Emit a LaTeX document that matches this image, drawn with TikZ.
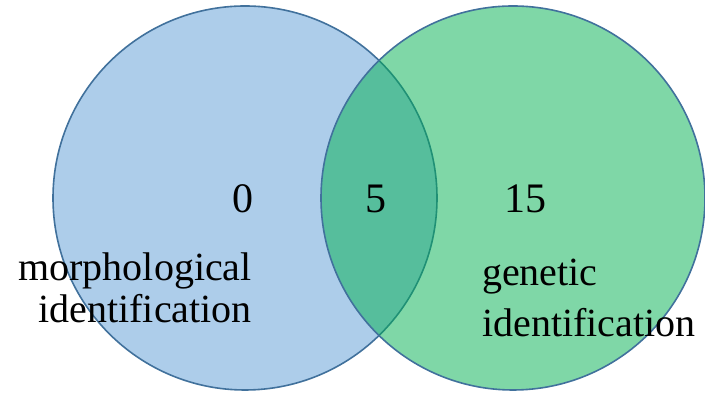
\documentclass[tikz,border=0pt]{standalone}
\usepackage{fontspec}
\setmainfont{Liberation Serif}
\usepackage{xcolor}
\definecolor{setblue}{HTML}{5B9BD5}
\definecolor{setgreen}{HTML}{00B050}
\definecolor{rimblue}{HTML}{41719C}

\begin{document}
\begin{tikzpicture}[
  x=1pt, y=1pt,
  setcircle/.style = {circle, draw=rimblue, line width=1.6pt, inner sep=0pt,
                      minimum size=384pt, fill opacity=0.5},
  morphset/.style  = {setcircle, fill=setblue},
  geneset/.style   = {setcircle, fill=setgreen},
  count/.style     = {anchor=base, font=\fontsize{42}{48}\selectfont},
  setlabel/.style  = {font=\fontsize{40}{42}\selectfont, inner sep=0pt},
]
\useasboundingbox (0,0) rectangle (705,395);

% the two sets
\node[morphset] (morph) at (245,197) {};
\node[geneset]  (gene)  at (513,197) {};

% counts
\node[count] (onlymorph) at (243,182) {0};
\node[count] (both)      at (376,182) {5};
\node[count] (onlygene)  at (525,182) {15};

% set names
\node[setlabel, align=right, anchor=base east] (morphname) at (252,72)
  {morphological\\ identification};
\node[setlabel, align=left, anchor=base west, font=\fontsize{40}{51}\selectfont] (genename) at (482,58)
  {genetic\\ identification};

\end{tikzpicture}
\end{document}
